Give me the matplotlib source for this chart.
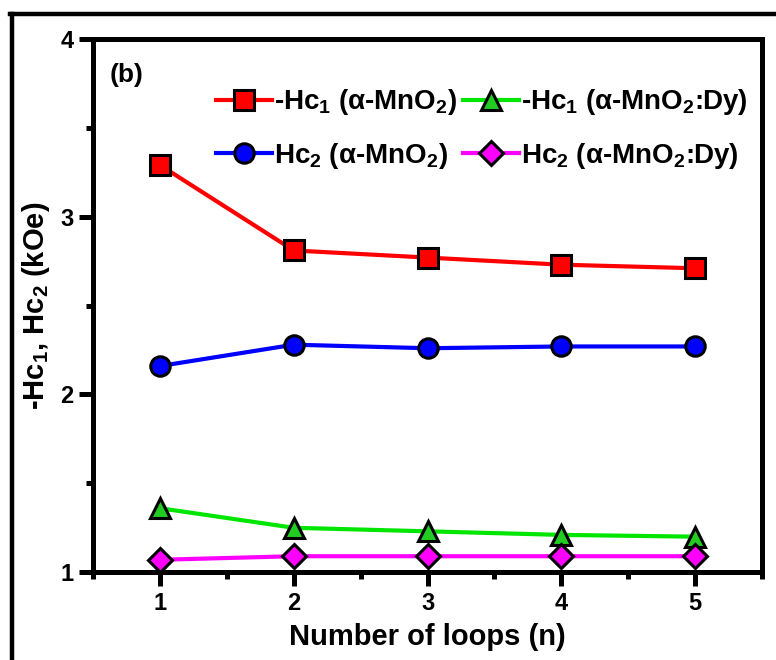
import matplotlib.pyplot as plt
from matplotlib.lines import Line2D
from matplotlib.ticker import MultipleLocator

plt.rcParams['font.family'] = ['Liberation Sans Narrow', 'Liberation Sans', 'DejaVu Sans']
plt.rcParams['font.weight'] = 'bold'
plt.rcParams['mathtext.fontset'] = 'custom'
plt.rcParams['mathtext.rm'] = 'Liberation Sans:bold'
plt.rcParams['mathtext.it'] = 'Liberation Sans:bold'
plt.rcParams['mathtext.bf'] = 'Liberation Sans:bold'

loops = [1, 2, 3, 4, 5]
hc1_mno2 = [3.29, 2.81, 2.77, 2.73, 2.71]
hc2_mno2 = [2.16, 2.28, 2.26, 2.27, 2.27]
hc1_dy = [1.36, 1.25, 1.23, 1.21, 1.20]
hc2_dy = [1.07, 1.09, 1.09, 1.09, 1.09]

labels = [r"-Hc$_1$ ($\alpha$-MnO$_2$)",
          r"Hc$_2$ ($\alpha$-MnO$_2$)",
          r"-Hc$_1$ ($\alpha$-MnO$_2$:Dy)",
          r"Hc$_2$ ($\alpha$-MnO$_2$:Dy)"]

fig = plt.figure(figsize=(7.76, 6.6), dpi=100)
ax = fig.add_axes([0.120, 0.133, 0.862, 0.808])

# outer frame (top and left only)
fig.add_artist(Line2D([0.013, 1.0], [0.979, 0.979], color="black", lw=3.2, transform=fig.transFigure))
fig.add_artist(Line2D([0.016, 0.016], [0.0, 0.979], color="black", lw=3.2, transform=fig.transFigure))

style = dict(lw=3, markersize=14, markeredgecolor="black", markeredgewidth=2.2)
ax.plot(loops, hc1_mno2, color="#ff0000", marker="s", markerfacecolor="#ff0000", label=labels[0], **style)
ax.plot(loops, hc2_mno2, color="#0000ff", marker="o", markerfacecolor="#0000ff", label=labels[1], **style)
ax.plot(loops, hc1_dy, color="#00e600", marker="^", markerfacecolor="#22cc22", label=labels[2], **style)
ax.plot(loops, hc2_dy, color="#ff00ff", marker="D", markerfacecolor="#ff00ff", label=labels[3],
        lw=3, markersize=12, markeredgecolor="black", markeredgewidth=2.2)

ax.set_xlim(0.5, 5.5)
ax.set_ylim(1, 4)
ax.xaxis.set_major_locator(MultipleLocator(1))
ax.xaxis.set_minor_locator(MultipleLocator(0.5))
ax.yaxis.set_major_locator(MultipleLocator(1))
ax.yaxis.set_minor_locator(MultipleLocator(0.5))

for s in ax.spines.values():
    s.set_linewidth(3.6)
ax.tick_params(which="major", direction="out", length=10, width=3.6, labelsize=17, pad=4)
ax.tick_params(which="minor", direction="out", length=5, width=3.6)
ax.tick_params(top=False, right=False, which="both")
for t in ax.get_xticklabels() + ax.get_yticklabels():
    t.set_fontweight("bold")

ax.set_xlabel("Number of loops (n)", fontsize=21, fontweight="bold", labelpad=6)
ax.set_ylabel(r"-Hc$_1$, Hc$_2$ (kOe)", fontsize=21, fontweight="bold", labelpad=6)

ax.text(0.025, 0.955, "(b)", transform=ax.transAxes, fontsize=19, fontweight="bold", va="top")

leg = ax.legend(ncol=2, loc="upper right", bbox_to_anchor=(1.0, 0.935), frameon=False,
                fontsize=20, handlelength=2.0, handletextpad=0.1, columnspacing=0.2,
                labelspacing=0.85, borderaxespad=0.1)

fig.savefig("out.png", dpi=100)
